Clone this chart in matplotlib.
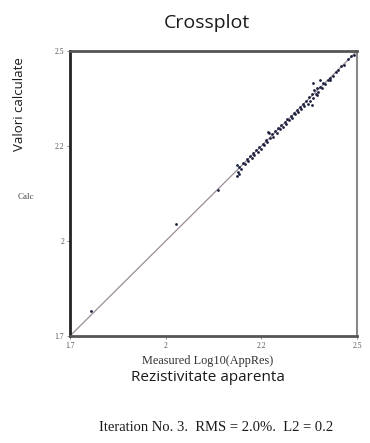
import matplotlib.pyplot as plt

# crossplot data (log10 apparent resistivity)
measured = [1.76, 1.995, 2.113, 2.165, 2.168, 2.172, 2.178, 2.183, 2.188, 2.192,
            2.197, 2.201, 2.206, 2.21, 2.214, 2.219, 2.224, 2.228, 2.232, 2.237,
            2.241, 2.246, 2.25, 2.254, 2.258, 2.263, 2.267, 2.271, 2.276, 2.28,
            2.285, 2.289, 2.293, 2.298, 2.302, 2.306, 2.31, 2.315, 2.319, 2.323,
            2.328, 2.332, 2.336, 2.34, 2.345, 2.349, 2.353, 2.357, 2.362, 2.366,
            2.37, 2.374, 2.377, 2.381, 2.385, 2.388, 2.392, 2.397, 2.401, 2.406,
            2.412, 2.418, 2.425, 2.432, 2.44, 2.448, 2.456, 2.465, 2.474, 2.483,
            2.492, 2.5, 2.377, 2.397, 2.425, 2.374, 2.388, 2.252, 2.165, 2.17]
calc = [1.77, 2.014, 2.11, 2.181, 2.16, 2.175, 2.17, 2.186, 2.183, 2.197,
        2.19, 2.205, 2.2, 2.213, 2.207, 2.222, 2.216, 2.232, 2.224, 2.24,
        2.236, 2.25, 2.244, 2.27, 2.255, 2.266, 2.26, 2.275, 2.27, 2.284,
        2.28, 2.292, 2.288, 2.30, 2.296, 2.31, 2.305, 2.318, 2.313, 2.326,
        2.322, 2.334, 2.33, 2.344, 2.336, 2.352, 2.345, 2.36, 2.352, 2.37,
        2.36, 2.38, 2.368, 2.39, 2.378, 2.395, 2.385, 2.40, 2.395, 2.41,
        2.408, 2.42, 2.418, 2.43, 2.44, 2.446, 2.458, 2.462, 2.478, 2.485,
        2.49, 2.5, 2.41, 2.419, 2.424, 2.348, 2.377, 2.272, 2.15, 2.155]

lims = [1.7, 2.5]
tick_pos = [1.7, 1.9667, 2.2333, 2.5]
tick_labels = ["1.7", "2", "2.2", "2.5"]

fig = plt.figure(figsize=(3.7, 4.43), dpi=100)
ax = fig.add_axes([0.189, 0.2415, 0.776, 0.6433])

ax.plot(lims, lims, color="#9c8c96", lw=0.9, zorder=1)
ax.plot(measured, calc, "o", color="#1c2040", markersize=2.0, mec="none", zorder=2)

ax.set_xlim(lims)
ax.set_ylim(lims)
ax.set_xticks(tick_pos)
ax.set_xticklabels(tick_labels)
ax.set_yticks(tick_pos)
ax.set_yticklabels(tick_labels)
ax.tick_params(length=2, width=0.6, color="#777777", labelsize=5.5, labelcolor="#555555", pad=2)
for lab in ax.get_xticklabels() + ax.get_yticklabels():
    lab.set_family("Liberation Serif")

ax.spines["left"].set_linewidth(2.0)
ax.spines["left"].set_color("#222222")
ax.spines["top"].set_linewidth(2.0)
ax.spines["top"].set_color("#555555")
ax.spines["bottom"].set_linewidth(2.0)
ax.spines["bottom"].set_color("#555555")
ax.spines["right"].set_linewidth(1.5)
ax.spines["right"].set_color("#888888")

fig.text(0.56, 0.948, "Crossplot", ha="center", va="center", fontsize=14,
         family="Open Sans", color="#1a1a1a")
fig.text(0.052, 0.765, "Valori calculate", ha="center", va="center", rotation=90,
         fontsize=9.5, family="Open Sans", color="#1a1a1a")
fig.text(0.07, 0.555, "Calc", ha="center", va="center", fontsize=6.5,
         family="Liberation Serif", color="#444444")
fig.text(0.562, 0.185, "Measured Log10(AppRes)", ha="center", va="center", fontsize=8.8,
         family="Liberation Serif", color="#333333")
fig.text(0.562, 0.147, "Rezistivitate aparenta", ha="center", va="center", fontsize=11,
         family="Open Sans", color="#1a1a1a")
fig.text(0.583, 0.034, "Iteration No. 3.  RMS = 2.0%.  L2 = 0.2", ha="center", va="center",
         fontsize=10.5, family="Liberation Serif", color="#1a1a1a")

fig.savefig("out.png", dpi=100)
